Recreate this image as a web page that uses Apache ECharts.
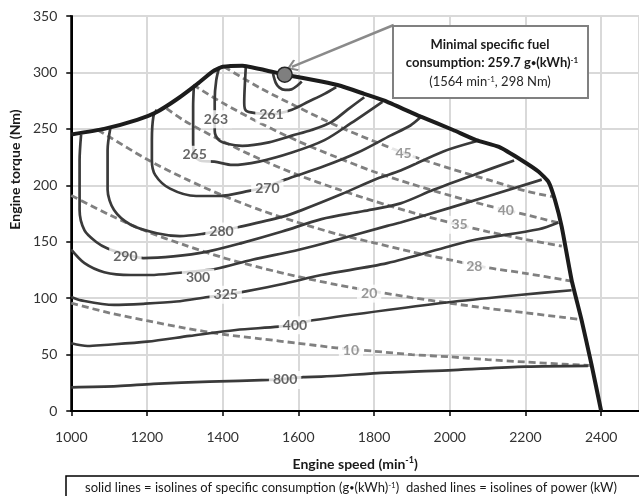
<!DOCTYPE html>
<html><head><meta charset="utf-8">
<script src="https://cdn.jsdelivr.net/npm/echarts@6/dist/echarts.min.js"></script>
<style>html,body{margin:0;padding:0;background:#fff}#c{width:639px;height:496px}</style>
</head><body><div id="c"></div>
<script>
// ---- axes ----
const speedMin = 1000, speedMax = 2500, speedStep = 200;
const torqueMin = 0, torqueMax = 350, torqueStep = 50;

// ---- full-load (max torque) curve ----
const fullLoad = [[1000,245],[1087,250],[1174,258],[1226,265],[1278,276],[1330,289],[1374,301],[1400,305],[1452,306],[1513,302],[1564,298],[1661,292],[1713,288],[1774,281],[1835,274],[1922,261],[2009,249],[2070,240],[2130,234],[2191,222],[2235,212],[2261,203],[2278,187],[2296,163],[2322,116],[2348,81],[2374,42],[2400,0]];

// ---- specific consumption isolines (g/kWh) ----
const sfcMinLoop = [[1533,299],[1540,291],[1550,286.5],[1565,284.5],[1582,285],[1596,288],[1609,292]];
const sfc261 = [[1461,304],[1458,285],[1457,273],[1462,266],[1487,264],[1529,263],[1583,267],[1626,274],[1669,281],[1700,287]];
const sfc263 = [[1391,305],[1383,293],[1379,276],[1379,259],[1379,248],[1390,240],[1410,237],[1452,235],[1522,238],[1583,244],[1635,249],[1687,256],[1730,267],[1774,278]];
const sfc265 = [[1324,288],[1322,270],[1322,250],[1322,238],[1326,226],[1345,221.5],[1378,221],[1426,218],[1496,221],[1583,229],[1669,240],[1739,255],[1822,274]];
const sfc270 = [[1226,267],[1217,261],[1213,240],[1213,222],[1222,209],[1261,197],[1330,190.5],[1391,190.5],[1470,195],[1518,199],[1565,205],[1669,217],[1757,229],[1843,244],[1896,253],[1922,260]];
const sfc280 = [[1104,252],[1096,231],[1096,196],[1113,178],[1157,165],[1226,157.5],[1287,155],[1348,157],[1397,160],[1443,163],[1557,172],[1609,178],[1713,192],[1809,206],[1870,213],[1983,230],[2070,239]];
const sfc290 = [[1026,245],[1022,222],[1022,178],[1035,160],[1065,150],[1096,144],[1143,139],[1191,135.5],[1270,137],[1356,141],[1452,149],[1557,159],[1661,170],[1770,177],[1870,184],[1957,196],[2070,210],[2170,222]];
const sfc300 = [[1000,143],[1035,131],[1087,123],[1157,120.5],[1209,120.5],[1287,122.5],[1335,124],[1383,126],[1478,134],[1591,142],[1661,148],[1835,164],[1870,167],[2000,180],[2243,205]];
const sfc325 = [[1000,101],[1026,98],[1113,94],[1191,95],[1278,97],[1361,101],[1408,103],[1461,106],[1565,113],[1661,120.5],[1835,131],[2000,146],[2070,152],[2235,161],[2287,167]];
const sfc400 = [[1000,60],[1043,57.6],[1087,58.5],[1200,61.4],[1313,66.5],[1435,71.8],[1548,74.7],[1591,77],[1643,80.6],[1835,89.5],[2009,96.8],[2183,102.8],[2322,107]];
const sfc800 = [[1000,21],[1122,22],[1217,24],[1365,26],[1522,27.5],[1565,28.5],[1613,30],[1661,30.4],[1835,34],[2009,36.3],[2200,39.3],[2365,40]];

// ---- power isolines (kW) ----
const pw45 = [[1404,305],[1500,286],[1600,269],[1700,253],[1800,239],[1900,226],[2000,215],[2100,205],[2200,195],[2270,190]];
const pw40 = [[1322,289],[1400,273],[1500,255],[1600,239],[1700,225],[1800,212],[1900,201],[2000,191],[2100,182],[2200,174],[2296,166]];
const pw35 = [[1252,268],[1300,257],[1400,239],[1500,223],[1600,209],[1700,197],[1800,186],[1900,176],[2000,167],[2100,159],[2200,152],[2296,146]];
const pw28 = [[1070,249],[1100,243],[1200,223],[1300,206],[1400,191],[1500,178],[1600,167],[1700,157],[1800,149],[1900,141],[2000,134],[2100,127],[2200,122],[2322,115]];
const pw20 = [[1000,191],[1100,174],[1200,159],[1300,147],[1400,136],[1500,127],[1600,119],[1700,112],[1800,106],[1900,100.5],[2000,95.5],[2100,91],[2200,87],[2300,83],[2348,81]];
const pw10 = [[1000,95.5],[1100,87],[1200,80],[1300,73.5],[1400,68],[1500,64],[1600,60],[1700,56],[1800,53],[1900,50],[2000,48],[2100,45.5],[2200,43.4],[2300,41.5],[2370,40.3]];

// ---- isoline labels [speed, torque, text] ----
const sfcLabels = [[1529,263,'261'],[1382,258.5,'263'],[1326,227,'265'],[1518,197,'270'],[1397,159,'280'],[1143,137,'290'],[1335,118,'300'],[1408,103,'325'],[1591,76,'400'],[1565,27.5,'800']];
const powerLabels = [[1878,228,'45'],[2148,178,'40'],[2026,165,'35'],[2065,128,'28'],[1787,104,'20'],[1739,54,'10']];

// ---- minimum point ----
const minPoint = [[1564,298]];
const arrowFrom = [1852,342], arrowTo = [1583,305];

const FONT = 'Lato, "Noto Sans", sans-serif';
const chart = echarts.init(document.getElementById('c'), null, {renderer:'canvas', width:639, height:496});

const sfcSets = [sfcMinLoop, sfc261, sfc263, sfc265, sfc270, sfc280, sfc290, sfc300, sfc325, sfc400, sfc800];
const pwSets = [pw45, pw40, pw35, pw28, pw20, pw10];

const series = [];
pwSets.forEach(d => series.push({type:'line', data:d, symbol:'none', smooth:0.3, silent:true, z:2,
  lineStyle:{color:'#808080', width:2.8, type:[7,4]}}));
sfcSets.forEach(d => series.push({type:'line', data:d, symbol:'none', smooth:0.3, silent:true, z:3,
  lineStyle:{color:'#3a3a3a', width:2.7}}));
series.push({type:'line', data:fullLoad, symbol:'none', smooth:0.15, silent:true, z:4,
  lineStyle:{color:'#1c1c1c', width:4}});
series.push({type:'scatter', data:sfcLabels, symbolSize:1, silent:true, z:7,
  itemStyle:{color:'rgba(0,0,0,0)'},
  label:{show:true, position:'inside', formatter:p=>p.value[2], color:'#404040', fontFamily:FONT,
    fontSize:14, fontWeight:'bold', backgroundColor:'#fff', padding:[2,4]}});
series.push({type:'scatter', data:powerLabels, symbolSize:1, silent:true, z:7,
  itemStyle:{color:'rgba(0,0,0,0)'},
  label:{show:true, position:'inside', formatter:p=>p.value[2], color:'#7f7f7f', fontFamily:FONT,
    fontSize:14, fontWeight:'bold', backgroundColor:'#fff', padding:[2,4]}});
series.push({type:'scatter', data:minPoint, symbolSize:15, silent:true, z:8,
  itemStyle:{color:'#7f7f7f', borderColor:'#262626', borderWidth:1.5, opacity:1},
  markLine:{silent:true, animation:false,
    symbol:['none','path://M0,0 L10,10 L8,12 L0,4 L-8,12 L-10,10 Z'], symbolSize:[12,11],
    lineStyle:{color:'#8a8a8a', width:2.5, type:'solid'}, label:{show:false},
    data:[[{coord:arrowFrom},{coord:arrowTo}]]}});

const supRich = {
  a:{fontFamily:FONT, fontSize:14, fontWeight:'bold', color:'#1a1a1a'},
  s:{fontFamily:FONT, fontSize:9, fontWeight:'bold', color:'#1a1a1a', verticalAlign:'top', padding:[0,0,7,0]}
};

chart.setOption({
  animation:false,
  backgroundColor:'#fff',
  grid:{left:67, right:-3, top:16, bottom:85, show:true, borderColor:'#000', borderWidth:2, containLabel:false},
  xAxis:{type:'value', min:speedMin, max:speedMax, interval:speedStep,
    name:'{a|Engine speed (min}{s|-1}{a|)}', nameLocation:'middle', nameGap:45,
    nameTextStyle:{rich:supRich},
    axisLine:{show:true, lineStyle:{color:'#000', width:2}},
    axisTick:{show:true, length:5, lineStyle:{color:'#000', width:1.5}},
    axisLabel:{fontFamily:FONT, fontSize:14, color:'#333', margin:19, showMaxLabel:false, formatter:v=>String(v)},
    splitLine:{show:true, lineStyle:{color:'#d9d9d9', width:2}}},
  yAxis:{type:'value', min:torqueMin, max:torqueMax, interval:torqueStep,
    name:'Engine torque (Nm)', nameLocation:'middle', nameGap:44, nameRotate:90,
    nameTextStyle:{fontFamily:FONT, fontSize:14, fontWeight:'bold', color:'#1a1a1a', padding:[0,0,0,88]},
    axisLine:{show:true, lineStyle:{color:'#000', width:2}},
    axisTick:{show:true, length:5, lineStyle:{color:'#000', width:1.5}},
    axisLabel:{fontFamily:FONT, fontSize:14, color:'#333', margin:14, formatter:v=>String(v)},
    splitLine:{show:true, lineStyle:{color:'#d9d9d9', width:2}}},
  series:series,
  graphic:[
    {type:'rect', z:100, shape:{x:393, y:26, width:195, height:72},
      style:{fill:'#fff', stroke:'#808080', lineWidth:2}},
    {type:'text', z:101, x:490, y:45, style:{text:'Minimal specific fuel', font:'bold 13px '+FONT, fill:'#1a1a1a', align:'center', verticalAlign:'middle'}},
    {type:'text', z:101, x:492, y:63, style:{text:'{a|consumption: 259.7 g}{b|•}{a|(kWh)}{s|-1}',
      align:'center', verticalAlign:'middle',
      rich:{a:{fontFamily:FONT, fontSize:13, fontWeight:'bold', fill:'#1a1a1a'},
            b:{fontFamily:FONT, fontSize:9, fontWeight:'bold', fill:'#1a1a1a'},
            s:{fontFamily:FONT, fontSize:8, fontWeight:'bold', fill:'#1a1a1a', verticalAlign:'top', padding:[0,0,6,0]}}}},
    {type:'text', z:101, x:490, y:82, style:{text:'{a|(1564 min}{s|-1}{a|, 298 Nm)}',
      align:'center', verticalAlign:'middle',
      rich:{a:{fontFamily:FONT, fontSize:13, fill:'#262626'},
            s:{fontFamily:FONT, fontSize:8, fill:'#262626', verticalAlign:'top', padding:[0,0,6,0]}}}},
    {type:'rect', z:100, shape:{x:66, y:476, width:600, height:40},
      style:{fill:'#fff', stroke:'#000', lineWidth:1.5}},
    {type:'text', z:101, x:351, y:488, style:{text:'{a|solid lines = isolines of specific consumption (g}{b|•}{a|(kWh)}{s|-1}{a|)  dashed lines = isolines of power (kW)}',
      align:'center', verticalAlign:'middle',
      rich:{a:{fontFamily:FONT, fontSize:13, fill:'#1a1a1a'},
            b:{fontFamily:FONT, fontSize:9, fill:'#1a1a1a'},
            s:{fontFamily:FONT, fontSize:8, fill:'#1a1a1a', verticalAlign:'top', padding:[0,0,5,0]}}}}
  ]
});
</script>
</body></html>
